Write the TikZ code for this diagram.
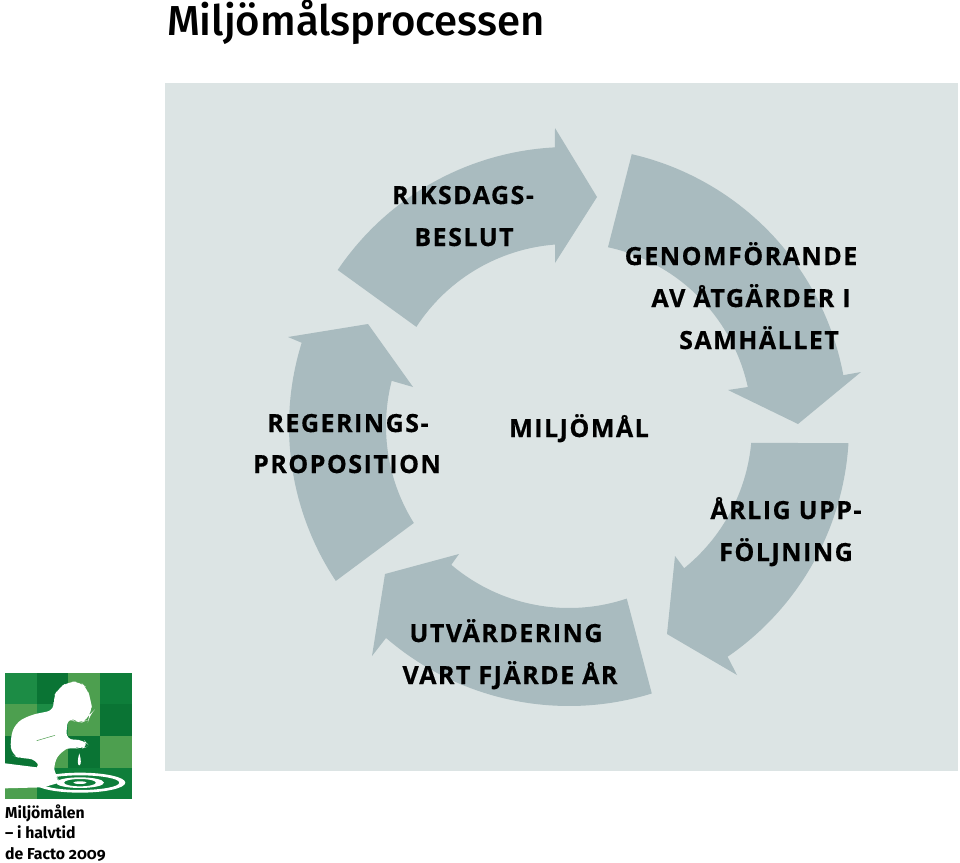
\documentclass[tikz,border=0pt]{standalone}
\usepackage{fontspec}
\setmainfont[Numbers=OldStyle]{Fira Sans}
\newfontfamily\lblfont[LetterSpace=6,BoldFeatures={FakeBold=0.5}]{Open Sans}
\newfontfamily\titlefont{Fira Sans Medium}
\definecolor{panel}{HTML}{DCE4E4}
\definecolor{arrowc}{HTML}{A9BBBF}
\definecolor{gA}{HTML}{1C8C45}
\definecolor{gB}{HTML}{0A7434}
\definecolor{gC}{HTML}{4D9F4F}
\definecolor{gD}{HTML}{0E7E3A}
\tikzset{
  flow/.style={fill=arrowc,draw=none},
  ringp/.style={samples=50},
  lbl/.style={font=\lblfont\bfseries\fontsize{25}{25}\selectfont,text=black,inner sep=0pt,anchor=base},
  logotext/.style={font=\fontsize{15.8}{20.5}\selectfont\bfseries,anchor=north west,align=left,inner sep=0pt,text=black},
  declare function={rx(\a,\r)=569+\r*cos(\a); ry(\a,\r)=426-\r*sin(\a);}
}
\begin{document}
\begin{tikzpicture}[x=1pt,y=-1pt]
\useasboundingbox (0,0) rectangle (960,862);
\fill[panel] (165,83) rectangle (958,771);
\node[anchor=base west,inner sep=0pt,font=\titlefont\fontsize{41.9}{41.9}\selectfont] (title) at (167,35) {Miljömålsprocessen};
% arrows
\fill[flow] plot[ringp,domain=146:92.9] ({rx(\x,279)},{ry(\x,279)}) -- (555,128) -- (597,197) -- (555,263) -- plot[ringp,domain=94.4:147] ({rx(\x,182)},{ry(\x,182)}) -- cycle;
\fill[flow] plot[ringp,domain=77:10.5] ({rx(\x,279)},{ry(\x,279)}) -- (861,372) -- (798,424) -- (728,390) -- plot[ringp,domain=12.3:77.7] ({rx(\x,183)},{ry(\x,183)}) -- cycle;
\fill[flow] plot[ringp,domain=-3.5:-55.5] ({rx(\x,280)},{ry(\x,280)}) -- (737,675) -- (667,634) -- (675,556) -- plot[ringp,domain=-51:-5.3] ({rx(\x,183)},{ry(\x,183)}) -- cycle;
\fill[flow] plot[ringp,domain=-72.8:-130.8] ({rx(\x,280)},{ry(\x,280)}) -- (372,656) -- (385,574) -- (459,554) -- plot[ringp,domain=-130.3:-71.5] ({rx(\x,182)},{ry(\x,182)}) -- cycle;
\fill[flow] plot[ringp,domain=213.6:162.7] ({rx(\x,280)},{ry(\x,280)}) -- (288,337) -- (368,324) -- (413,387) -- plot[ringp,domain=165.7:212] ({rx(\x,183)},{ry(\x,183)}) -- cycle;
% labels
\node[lbl] (l1) at (463,204) {RIKSDAGS-};
\node[lbl] (l2) at (464,246) {BESLUT};
\node[lbl] (l3) at (741,265) {GENOMFÖRANDE};
\node[lbl] (l4) at (751,307) {AV ÅTGÄRDER I};
\node[lbl] (l5) at (759,349) {SAMHÄLLET};
\node[lbl] (l6) at (348,432) {REGERINGS-};
\node[lbl] (l7) at (347,473) {PROPOSITION};
\node[lbl] (l8) at (579,437) {MILJÖMÅL};
\node[lbl] (l9) at (786,519) {ÅRLIG UPP-};
\node[lbl] (l10) at (786,561) {FÖLJNING};
\node[lbl] (l11) at (506,642) {UTVÄRDERING};
\node[lbl] (l12) at (510,684) {VART FJÄRDE ÅR};
% logo
\begin{scope}[shift={(0,660)},x=0.3333pt,y=-0.3333pt]
\fill[gA] (15,38) rectangle (110,133);
\fill[gB] (110,38) rectangle (205,133);
\fill[gC] (205,38) rectangle (301,133);
\fill[gD] (301,38) rectangle (397,133);
\fill[gC] (15,133) rectangle (110,229);
\fill[gA] (110,133) rectangle (205,229);
\fill[gC] (205,133) rectangle (301,229);
\fill[gB] (301,133) rectangle (397,229);
\fill[gB] (15,229) rectangle (110,325);
\fill[gC] (110,229) rectangle (205,325);
\fill[gB] (205,229) rectangle (301,325);
\fill[gC] (301,229) rectangle (397,325);
\fill[gC] (15,325) rectangle (110,418);
\fill[gD] (110,325) rectangle (397,418);
\fill[white] (15,310) -- (110,322) -- (135,285) -- (165,345) -- (178,368) -- (130,382) -- (15,385) -- cycle;
\fill[white,rounded corners=8pt] (165,150) -- (158,115) -- (175,85) -- (205,65) -- (240,65) -- (262,85) -- (272,120) -- (278,155) -- (268,165) -- (265,180) -- (245,187) -- (225,185) -- (205,170) -- (200,205) -- (198,240) -- (250,238) -- (268,258) -- (240,268) -- (215,260) -- (185,272) -- (160,310) -- (165,345) -- (180,365) -- (130,375) -- (125,345) -- (110,297) -- (60,295) -- (35,285) -- (30,240) -- (45,190) -- (90,165) -- cycle;
\draw[gC,line width=0.5pt] (110,242) -- (165,226);
\fill[white] (238,280) .. controls (232,300) and (232,315) .. (238,316) .. controls (244,315) and (244,300) .. (238,280) -- cycle;
\fill[white,even odd rule] (240,368) ellipse [x radius=136,y radius=30] (240,368) ellipse [x radius=118,y radius=22] (240,368) ellipse [x radius=72,y radius=16] (240,368) ellipse [x radius=48,y radius=11] (240,368) ellipse [x radius=20,y radius=4];
\end{scope}
\node[logotext] (logo) at (5,804.5) {Miljömålen\\– i halvtid\\de Facto 2009};
\end{tikzpicture}
\end{document}
